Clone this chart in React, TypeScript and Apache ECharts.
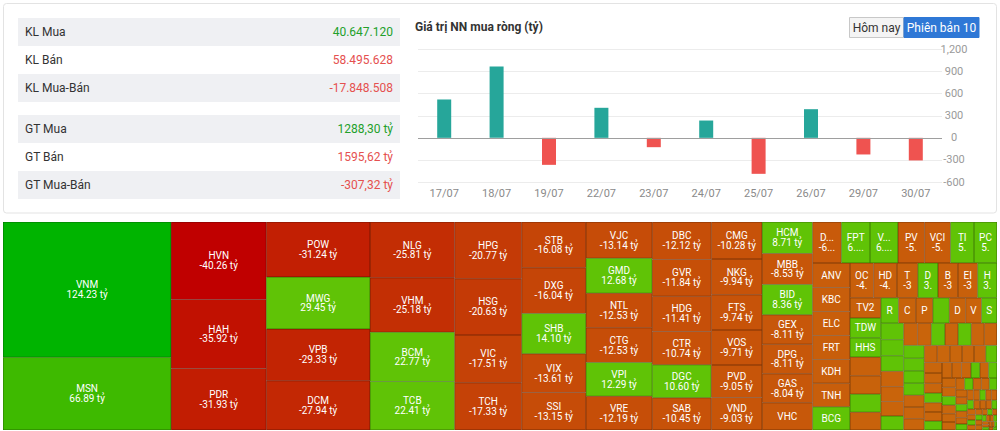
import React, { useEffect, useRef } from 'react';
import * as echarts from 'echarts';

// ---------- data ----------
const tableLabels = ['KL Mua', 'KL Bán', 'KL Mua-Bán', 'GT Mua', 'GT Bán', 'GT Mua-Bán'];
const tableValues = ['40.647.120', '58.495.628', '-17.848.508', '1288,30 tỷ', '1595,62 tỷ', '-307,32 tỷ'];
const tableSigns = [1, -1, -1, 1, -1, -1];

const chartTitle = 'Giá trị NN mua ròng (tỷ)';
const buttonLabels = ['Hôm nay', 'Phiên bản 10'];

const barDates = ['17/07', '18/07', '19/07', '22/07', '23/07', '24/07', '25/07', '26/07', '29/07', '30/07'];
const barValues = [521, 969, -367, 408, -127, 235, -489, 389, -226, -307];

// (equal values are listed in reverse of their on-screen order: ECharts places the later index first)
const tmNames = [
  'VNM', 'MSN', 'HVN', 'HAH', 'PDR', 'POW', 'MWG', 'VPB', 'DCM', 'NLG', 'VHM', 'BCM', 'TCB',
  'HPG', 'HSG', 'VIC', 'TCH', 'STB', 'DXG', 'SHB', 'VIX', 'SSI', 'VJC', 'GMD', 'CTG', 'NTL',
  'VPI', 'VRE', 'DBC', 'GVR', 'HDG', 'CTR', 'DGC', 'SAB', 'CMG', 'NKG', 'FTS', 'VOS', 'PVD',
  'VND', 'HCM', 'MBB', 'BID', 'DPG', 'GEX', 'GAS', 'VHC',
  'DMC', 'FPT', 'VMD', 'PVT', 'VCI', 'TIP', 'PC1',
  'ANV', 'KBC', 'FRT', 'ELC', 'KDH', 'TNH', 'BCG',
  'OCB', 'HDB', 'TPB', 'DHC', 'BMP', 'EIB', 'HAG',
  'TV2', 'TDW', 'HHS', 'KDC', 'DIG', 'PHR', 'NT2',
  'REE', 'CII', 'PNJ', 'MSB', 'DXS', 'VIB', 'SSB',
  'HT1', 'LPB', 'EVF', 'SZC', 'PTB', 'HQC', 'SCS',
  'ORS', 'CSV', 'AGG', 'SIP', 'ACB', 'GEG', 'TLG',
  'HDC', 'VCG', 'KSB', 'DPR', 'CTD', 'HBC', 'IJC',
  'LCG', 'PET', 'PAN', 'BAF', 'DBD', 'HAX', 'DRC', 'CSM',
  'SKG', 'VSC', 'PVP', 'TDM', 'BWE', 'TDH', 'SBT', 'LSS',
  'QCG', 'HPX', 'NVL', 'CRE', 'DLG', 'FIT', 'ITA', 'KHG', 'HNG',
  'TTF', 'VPG', 'ASM', 'APG', 'CKG', 'BSI', 'CTS', 'AGR', 'TVS', 'VDS',
  'DSE', 'EVG', 'HID', 'SGR', 'NAF', 'VTP', 'BFC', 'DCL', 'IMP', 'DTA',
  'TRA', 'DHG', 'DBT', 'PGD', 'CNG', 'PGC', 'SVC', 'VNL', 'TMS', 'HTN', 'HTV', 'VTO',
  'CLL', 'GSP', 'PJT', 'VIP', 'SFG', 'ST8', 'TYA', 'VAF', 'SMC', 'HVH', 'TCL', 'DAH',
];
const tmValues = [
  124.23, 66.89, -40.26, -35.92, -31.93, -31.24, 29.45, -29.33, -27.94, -25.81, -25.18, 22.77, 22.41,
  -20.77, -20.63, -17.51, -17.33, -16.08, -16.04, 14.10, -13.61, -13.15, -13.14, 12.68, -12.53, -12.53,
  12.29, -12.19, -12.12, -11.84, -11.41, -10.74, 10.60, -10.45, -10.28, -9.94, -9.74, -9.71, -9.05,
  -9.03, 8.71, -8.53, 8.36, -8.11, -8.11, -8.04, -7.50,
  -6.45, 6.40, 6.25, -5.95, -5.80, 5.25, 5.15,
  -5.00, -4.95, -4.90, -4.90, -4.85, -4.80, 4.75,
  -4.50, -4.45, -3.98, 3.85, -3.80, -3.75, 3.70,
  -3.40, 3.35, 3.25, -3.15, -3.10, 3.05, -3.00,
  2.45, -2.40, -2.35, 2.30, -2.25, -2.20, 2.15,
  2.05, 2.00, 1.95, -1.90, -1.85, -1.80, 1.75,
  -1.70, -1.68, 1.65, -1.62, 1.60, -1.58, -1.55,
  1.45, 1.42, 1.40, 1.37, -1.34, -1.31, -1.28,
  -1.20, -1.17, -1.14, -1.11, -1.08, 1.05, -1.02, -0.99,
  -0.95, 0.92, -0.90, -0.88, 0.86, -0.84, -0.82, -0.80,
  0.76, -0.74, 0.72, -0.70, -0.68, 0.66, -0.64, -0.62, -0.60,
  -0.57, 0.55, -0.53, -0.51, 0.49, -0.47, -0.45, 0.43, -0.41, -0.40,
  0.38, -0.36, -0.35, 0.34, -0.33, -0.32, 0.31, -0.30, -0.29, -0.28,
  0.26, -0.25, -0.24, 0.23, -0.22, -0.21, 0.20, -0.19, -0.18, -0.17, 0.16, -0.15,
  0.14, -0.13, 0.12, -0.12, -0.11, 0.10, -0.10, -0.09, 0.08, -0.08, -0.07, 0.06,
];

// ---------- styling helpers ----------
const FONT = 'Roboto, "Liberation Sans", Arial, sans-serif';

function cellRGB(v: number): number[] {
  if (v >= 100) return [0, 180, 0];
  if (v >= 50) return [62, 186, 0];
  if (v > 0) return [96, 195, 6];
  const t = Math.min(Math.abs(v) / 40, 1);
  const g = Math.round(104 * Math.pow(1 - t, 0.8));
  const r = Math.round(201 - 9 * t);
  const b = Math.round(12 * (1 - t));
  return [r, g, b];
}
const rgb = (c: number[], k = 1) =>
  `rgb(${Math.round(c[0] * k)},${Math.round(c[1] * k)},${Math.round(c[2] * k)})`;

export default function App() {
  const ref = useRef<HTMLDivElement>(null);

  useEffect(() => {
    const chart = echarts.init(ref.current!, null, { renderer: 'svg', width: 1000, height: 431 });

    const rowYs = [18, 46, 74, 115, 143, 171];
    const graphics: any[] = [
      {
        type: 'rect', z: -10,
        shape: { x: 3.5, y: 3.5, width: 993, height: 209.5, r: 3 },
        style: { fill: '#fff', stroke: '#e3e3e3', lineWidth: 1 },
      },
    ];
    tableLabels.forEach((lab, i) => {
      const y = rowYs[i];
      if (i % 3 !== 1) {
        graphics.push({
          type: 'rect', z: -5,
          shape: { x: 18, y, width: 382, height: 28 },
          style: { fill: '#eff0f3' },
        });
      }
      graphics.push({
        type: 'text', x: 25, y: y + 14,
        style: {
          text: lab, fill: '#333', font: `12px ${FONT}`,
          textAlign: 'left', textVerticalAlign: 'middle', align: 'left', verticalAlign: 'middle',
        },
      });
      graphics.push({
        type: 'text', x: 393, y: y + 14,
        style: {
          text: tableValues[i], fill: tableSigns[i] > 0 ? '#22a02a' : '#e5504f', font: `12px ${FONT}`,
          textAlign: 'right', textVerticalAlign: 'middle', align: 'right', verticalAlign: 'middle',
        },
      });
    });
    graphics.push({
      type: 'text', x: 415, y: 27,
      style: {
        text: chartTitle, fill: '#333', font: `bold 12px ${FONT}`,
        textAlign: 'left', textVerticalAlign: 'middle', align: 'left', verticalAlign: 'middle',
      },
    });
    graphics.push({
      type: 'rect', shape: { x: 849.5, y: 17.5, width: 54, height: 20 },
      style: { fill: '#f4f4f4', stroke: '#c8c8c8', lineWidth: 1 },
    });
    graphics.push({
      type: 'rect', shape: { x: 904, y: 17.5, width: 75, height: 20 },
      style: { fill: '#2f78d6', stroke: '#2f78d6', lineWidth: 1 },
    });
    graphics.push({
      type: 'text', x: 876.5, y: 27.5,
      style: {
        text: buttonLabels[0], fill: '#333', font: `12px ${FONT}`,
        textAlign: 'center', textVerticalAlign: 'middle', align: 'center', verticalAlign: 'middle',
      },
    });
    graphics.push({
      type: 'text', x: 941.5, y: 27.5,
      style: {
        text: buttonLabels[1], fill: '#fff', font: `12px ${FONT}`,
        textAlign: 'center', textVerticalAlign: 'middle', align: 'center', verticalAlign: 'middle',
      },
    });

    const tmData = tmNames.map((name, i) => {
      const v = tmValues[i];
      const c = cellRGB(v);
      return {
        name,
        value: Math.abs(v),
        signed: v,
        itemStyle: { color: rgb(c), borderColor: rgb(c, 0.62), borderWidth: 0.5 },
      };
    });

    const option: any = {
      animation: false,
      graphic: { elements: graphics },
      grid: {
        left: 418, right: 58, top: 49.5, bottom: 249,
        containLabel: false, outerBoundsMode: 'none',
      },
      xAxis: {
        type: 'category',
        data: barDates,
        axisLine: { show: false, onZero: false },
        axisTick: { show: false },
        axisLabel: { color: '#8a8a8a', fontSize: 11, fontFamily: FONT, margin: 6 },
        splitLine: { show: false },
      },
      yAxis: {
        type: 'value',
        position: 'right',
        min: -600, max: 1200, interval: 300,
        axisLine: { show: false },
        axisTick: { show: false },
        axisLabel: { color: '#9a9a9a', fontSize: 11, fontFamily: FONT, align: 'center', margin: 12 },
        splitLine: { lineStyle: { color: '#ececec', width: 1 } },
      },
      series: [
        {
          type: 'bar',
          barWidth: 14,
          data: barValues.map((v) => ({ value: v, itemStyle: { color: v >= 0 ? '#26a69a' : '#ef5350' } })),
          markLine: {
            silent: true,
            symbol: 'none',
            label: { show: false },
            lineStyle: { color: '#9e9e9e', type: 'solid', width: 1 },
            data: [{ yAxis: 0 }],
          },
        },
        {
          type: 'treemap',
          left: 3, top: 222, width: 994, height: 208,
          roam: false,
          nodeClick: false,
          visibleMin: 0,
          breadcrumb: { show: false },
          label: {
            show: true,
            position: 'inside',
            color: '#fff',
            fontSize: 10,
            lineHeight: 9.8,
            padding: [4, 3.5, 4, 3.5],
            fontFamily: FONT,
            formatter: (p: any) => `${p.name}\n${p.data.signed.toFixed(2)} tỷ`,
          },
          itemStyle: { borderWidth: 0.5, gapWidth: 0 },
          levels: [{ itemStyle: { borderWidth: 0, gapWidth: 0 } }],
          data: tmData,
        },
      ],
    };

    chart.setOption(option);
    return () => chart.dispose();
  }, []);

  return (
    <div
      ref={ref}
      style={{ position: 'absolute', left: 0, top: 0, width: 1000, height: 431, background: '#fff' }}
    />
  );
}
